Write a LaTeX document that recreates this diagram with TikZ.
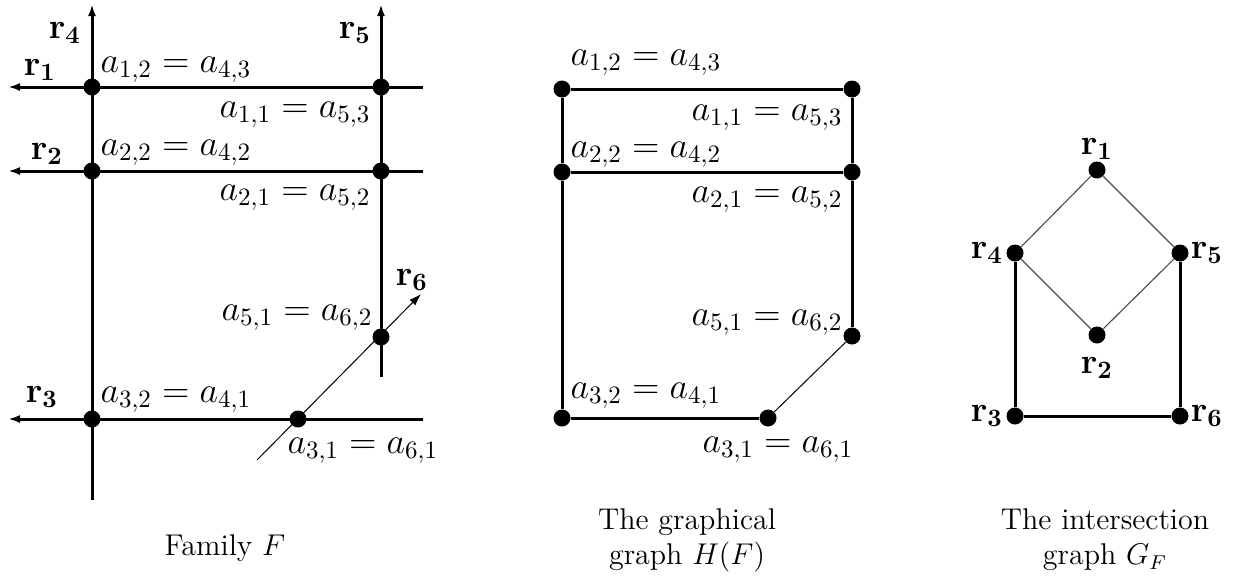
\documentclass[tikz,border=0pt]{standalone}
\usetikzlibrary{arrows.meta}
\begin{document}
\begin{tikzpicture}[x=0.4pt,y=-0.4pt,
  thickline/.style={line width=1.2pt},
  thinline/.style={line width=0.4pt},
  diamondline/.style={line width=0.45pt, black!70},
  ray/.style={line width=1.2pt,-{Latex[length=4.8pt,width=3.2pt]}},
  thinray/.style={line width=0.4pt,-{Latex[length=4.8pt,width=3.2pt]}},
  dot/.style={circle,fill=black,inner sep=0pt,minimum size=6.8pt},
  lab/.style={font=\Large,inner sep=0pt},
  rlab/.style={font=\Large,inner sep=0pt},
  captext/.style={font=\large,align=center,inner sep=0pt}]
\useasboundingbox (0,0) rectangle (1233,582);
% ---------- Family F ----------
\coordinate (r4s) at (92,500);  \coordinate (r4t) at (92,4);
\coordinate (r5s) at (381,377); \coordinate (r5t) at (381,4);
\coordinate (r1s) at (423,87);  \coordinate (r1t) at (8,87);
\coordinate (r2s) at (423,171); \coordinate (r2t) at (8,171);
\coordinate (r3s) at (423,419); \coordinate (r3t) at (8,419);
\coordinate (r6s) at (257,460); \coordinate (r6t) at (421,294);
\draw[ray] (r4s) -- (r4t);
\draw[ray] (r5s) -- (r5t);
\draw[ray] (r1s) -- (r1t);
\draw[ray] (r2s) -- (r2t);
\draw[ray] (r3s) -- (r3t);
\draw[thinray] (r6s) -- (r6t);
\node[dot] (f12) at (92,87) {};
\node[dot] (f11) at (381,87) {};
\node[dot] (f22) at (92,171) {};
\node[dot] (f21) at (381,171) {};
\node[dot] (f51) at (381,337) {};
\node[dot] (f31) at (298,419) {};
\node[dot] (f32) at (92,419) {};
\node[rlab] (lr4) at (65,33) {$\mathbf{r_4}$};
\node[rlab] (lr5) at (355,33) {$\mathbf{r_5}$};
\node[rlab] (lr1) at (40,70) {$\mathbf{r_1}$};
\node[rlab] (lr2) at (47,154) {$\mathbf{r_2}$};
\node[rlab] (lr3) at (42,397) {$\mathbf{r_3}$};
\node[rlab] (lr6) at (412,280) {$\mathbf{r_6}$};
\node[lab,anchor=base west] (t12) at (100,72) {$a_{1,2} = a_{4,3}$};
\node[lab,anchor=base east] (t11) at (371,117) {$a_{1,1} = a_{5,3}$};
\node[lab,anchor=base west] (t22) at (100,155) {$a_{2,2} = a_{4,2}$};
\node[lab,anchor=base east] (t21) at (371,200) {$a_{2,1} = a_{5,2}$};
\node[lab,anchor=base east] (t51) at (373,320) {$a_{5,1} = a_{6,2}$};
\node[lab,anchor=base west] (t32) at (100,402) {$a_{3,2} = a_{4,1}$};
\node[lab,anchor=base west] (t31) at (287,453) {$a_{3,1} = a_{6,1}$};
\node[captext] (capF) at (225,548) {Family $F$};
% ---------- Graphical graph H(F) ----------
\node[dot] (h12) at (562,89) {};
\node[dot] (h11) at (852,89) {};
\node[dot] (h22) at (562,172) {};
\node[dot] (h21) at (852,172) {};
\node[dot] (h51) at (852,336) {};
\node[dot] (h32) at (562,418) {};
\node[dot] (h31) at (768,418) {};
\draw[thickline] (h12) -- (h11);
\draw[thickline] (h22) -- (h21);
\draw[thickline] (h12) -- (h22) -- (h32) -- (h31);
\draw[thickline] (h11) -- (h21) -- (h51);
\draw[thinline] (h51) -- (h31);
\node[lab,anchor=base west] (u12) at (570,65) {$a_{1,2} = a_{4,3}$};
\node[lab,anchor=base east] (u11) at (843,120) {$a_{1,1} = a_{5,3}$};
\node[lab,anchor=base west] (u22) at (570,157) {$a_{2,2} = a_{4,2}$};
\node[lab,anchor=base east] (u21) at (843,202) {$a_{2,1} = a_{5,2}$};
\node[lab,anchor=base east] (u51) at (843,325) {$a_{5,1} = a_{6,2}$};
\node[lab,anchor=base west] (u32) at (570,398) {$a_{3,2} = a_{4,1}$};
\node[lab,anchor=base west] (u31) at (702,452) {$a_{3,1} = a_{6,1}$};
\node[captext] (capH) at (687,540) {The graphical\\graph $H(F)$};
% ---------- Intersection graph G_F ----------
\node[dot] (g1) at (1097,170) {};
\node[dot] (g4) at (1015,253) {};
\node[dot] (g5) at (1180,253) {};
\node[dot] (g2) at (1097,335) {};
\node[dot] (g3) at (1015,416) {};
\node[dot] (g6) at (1180,416) {};
\draw[diamondline] (g1) -- (g4) -- (g2) -- (g5) -- (g1);
\draw[thickline] (g4) -- (g3) -- (g6) -- (g5);
\node[rlab] (lg1) at (1097,149) {$\mathbf{r_1}$};
\node[rlab] (lg4) at (987,253) {$\mathbf{r_4}$};
\node[rlab] (lg5) at (1207,253) {$\mathbf{r_5}$};
\node[rlab] (lg2) at (1097,368) {$\mathbf{r_2}$};
\node[rlab] (lg3) at (987,416) {$\mathbf{r_3}$};
\node[rlab] (lg6) at (1207,416) {$\mathbf{r_6}$};
\node[captext] (capG) at (1105,540) {The intersection\\graph $G_F$};
\end{tikzpicture}
\end{document}
